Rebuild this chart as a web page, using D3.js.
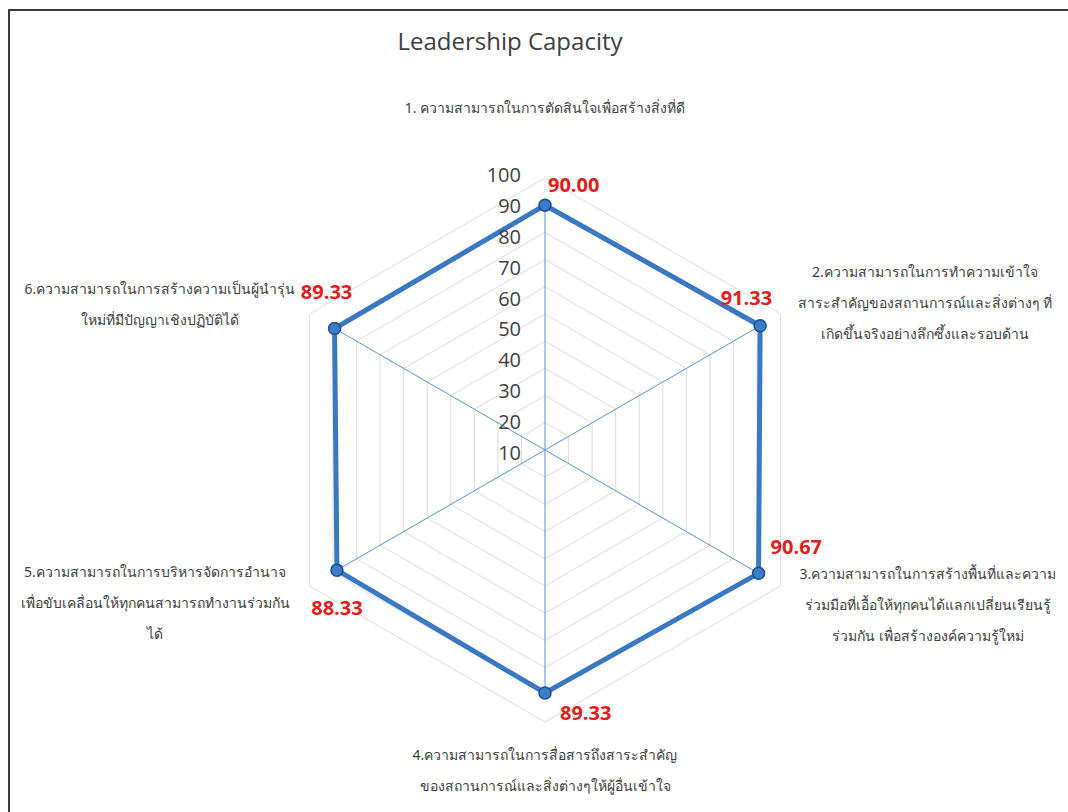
<!DOCTYPE html>
<html>
  <head>
    <meta charset="utf-8">
    <script src="https://d3js.org/d3.v7.min.js"></script>
    <title>Leadership Capacity</title>
    <style>
      body { margin: 0; background: #fff; }
      svg { display: block; }
      .title { fill: #404040; font-size: 24px; font-family: "Open Sans", "Noto Sans", sans-serif; }
      .tick-label { fill: #404040; font-size: 20px; font-family: "Open Sans", "Noto Sans", sans-serif; }
      .cat-label { fill: #404040; font-size: 14px; font-family: "Noto Sans", "DejaVu Sans", sans-serif; }
      .value-label { fill: #e0201c; font-size: 20px; font-weight: bold; font-family: "Open Sans", "Noto Sans", sans-serif; }
    </style>
  </head>
  <body>
    <svg width="1068" height="812"></svg>
    <script>
      // chart data
      const categories = [
        ['1. ความสามารถในการตัดสินใจเพื่อสร้างสิ่งที่ดี'],
        ['2.ความสามารถในการทำความเข้าใจ', 'สาระสำคัญของสถานการณ์และสิ่งต่างๆ ที่', 'เกิดขึ้นจริงอย่างลึกซึ้งและรอบด้าน'],
        ['3.ความสามารถในการสร้างพื้นที่และความ', 'ร่วมมือที่เอื้อให้ทุกคนได้แลกเปลี่ยนเรียนรู้', 'ร่วมกัน เพื่อสร้างองค์ความรู้ใหม่'],
        ['4.ความสามารถในการสื่อสารถึงสาระสำคัญ', 'ของสถานการณ์และสิ่งต่างๆให้ผู้อื่นเข้าใจ'],
        ['5.ความสามารถในการบริหารจัดการอำนาจ', 'เพื่อขับเคลื่อนให้ทุกคนสามารถทำงานร่วมกัน', 'ได้'],
        ['6.ความสามารถในการสร้างความเป็นผู้นำรุ่น', 'ใหม่ที่มีปัญญาเชิงปฏิบัติได้']
      ];
      const values = [90.00, 91.33, 90.67, 89.33, 88.33, 89.33];
      const ticks = [10, 20, 30, 40, 50, 60, 70, 80, 90, 100];

      const svg = d3.select('svg');
      const cx = 545, cy = 450, R = 272;

      // frame (top + left edges only visible)
      svg.append('path')
        .attr('d', 'M9,1068 L9,10 L1068,10')
        .attr('fill', 'none').attr('stroke', '#3a3a3a').attr('stroke-width', 2);

      svg.append('text').attr('class', 'title')
        .attr('x', 510).attr('y', 50).attr('text-anchor', 'middle')
        .text('Leadership Capacity');

      const g = svg.append('g').attr('transform', `translate(${cx},${cy})`);
      const r = d3.scaleLinear().domain([0, 100]).range([0, R]);
      const angle = i => i * 2 * Math.PI / categories.length;
      const pt = (i, v) => [r(v) * Math.sin(angle(i)), -r(v) * Math.cos(angle(i))];

      // gridlines
      ticks.forEach(t => {
        g.append('path')
          .attr('d', d3.line()(categories.map((c, i) => pt(i, t))) + 'Z')
          .attr('fill', 'none').attr('stroke', '#dcdcdc').attr('stroke-width', 1);
      });

      // spokes
      g.selectAll('.spoke').data(values).enter().append('line')
        .attr('x1', 0).attr('y1', 0)
        .attr('x2', (d, i) => pt(i, d)[0]).attr('y2', (d, i) => pt(i, d)[1])
        .attr('stroke', '#5b8fd0').attr('stroke-width', 1);

      // series
      g.append('path')
        .attr('d', d3.line()(values.map((v, i) => pt(i, v))) + 'Z')
        .attr('fill', 'none').attr('stroke', '#3b78c4').attr('stroke-width', 5)
        .attr('stroke-linejoin', 'miter');

      g.selectAll('.marker').data(values).enter().append('circle')
        .attr('cx', (d, i) => pt(i, d)[0]).attr('cy', (d, i) => pt(i, d)[1])
        .attr('r', 6).attr('fill', '#3d7cc7').attr('stroke', '#1f4e8c').attr('stroke-width', 1.5);

      // radial tick labels (the picture stretches them a bit along the top spoke)
      const labelY = d3.scaleLinear().domain([10, 100]).range([453 - cy, 175 - cy]);
      g.selectAll('.tick-label').data(ticks).enter().append('text')
        .attr('class', 'tick-label')
        .attr('x', -24).attr('y', d => labelY(d) + 7)
        .attr('text-anchor', 'end')
        .text(d => d);

      // value labels
      const valOffsets = [[3, -13], [12, -21], [12, -19], [15, 27], [0, 45], [-8, -30]];
      const valAnchor = ['start', 'end', 'start', 'start', 'middle', 'middle'];
      g.selectAll('.value-label').data(values).enter().append('text')
        .attr('class', 'value-label')
        .attr('x', (d, i) => pt(i, d)[0] + valOffsets[i][0])
        .attr('y', (d, i) => pt(i, d)[1] + valOffsets[i][1])
        .attr('text-anchor', (d, i) => valAnchor[i])
        .text(d => d.toFixed(2));

      // category labels
      const catPos = [[545, 113], [925, 277], [928, 579], [545, 760], [155, 577], [160, 294]];
      categories.forEach((lines, i) => {
        const t = svg.append('text').attr('class', 'cat-label')
          .attr('text-anchor', 'middle')
          .attr('x', catPos[i][0]).attr('y', catPos[i][1]);
        lines.forEach((l, j) => t.append('tspan')
          .attr('x', catPos[i][0]).attr('dy', j ? 31 : 0).text(l));
      });
    </script>
  </body>
</html>
